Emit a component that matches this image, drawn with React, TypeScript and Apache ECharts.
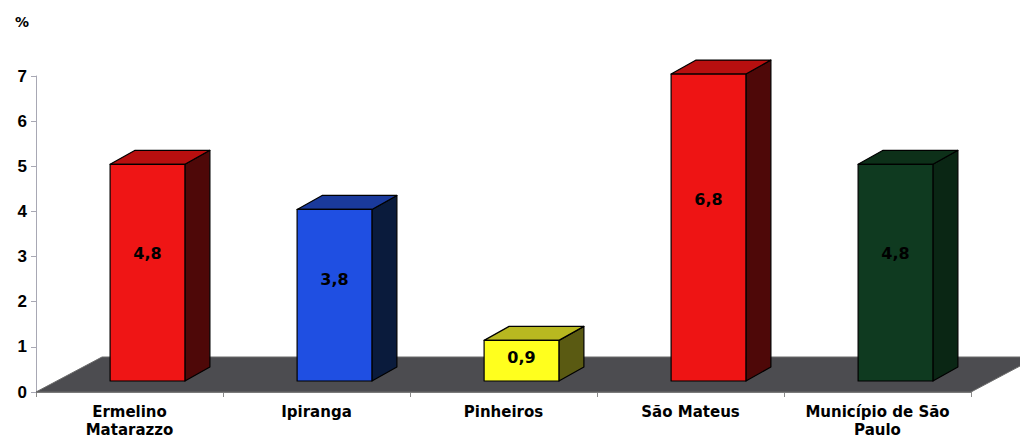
import React, { useEffect, useRef } from "react";
import * as echarts from "echarts";

const categories = ["Ermelino Matarazzo", "Ipiranga", "Pinheiros", "São Mateus", "Município de São Paulo"];
const values = [4.8, 3.8, 0.9, 6.8, 4.8];
const valueLabels = ["4,8", "3,8", "0,9", "6,8", "4,8"];
const yTicks = [0, 1, 2, 3, 4, 5, 6, 7];

const frontColors = ["#ef1515", "#1f4fe2", "#ffff1e", "#ee1414", "#0f3a20"];
const sideColors = ["#4e0808", "#0a1b3c", "#5a5a12", "#4e0808", "#0a2614"];
const topColors = ["#b80f0f", "#1a3a9c", "#b8b820", "#b80f0f", "#0d3019"];

const FONT = "'DejaVu Sans', Verdana, sans-serif";
const FONT_NUM = "Arial, 'Liberation Sans', sans-serif";

export default function App() {
  const ref = useRef<HTMLDivElement>(null);
  useEffect(() => {
    if (!ref.current) return;
    const chart = echarts.init(ref.current, undefined, { renderer: "svg" });
    const FLOOR_DX = 66, FLOOR_DY = -35;
    const OFF_X = 18, OFF_Y = -11;
    const DEP_X = 25, DEP_Y = -14;
    chart.setOption({
      animation: false,
      backgroundColor: "#ffffff",
      textStyle: { fontFamily: FONT },
      graphic: [
        {
          type: "text",
          left: 15,
          top: 15,
          style: { text: "%", fill: "#000", font: `bold 14px ${FONT}` },
        },
      ],
      grid: { left: 36, right: 49, top: 76, bottom: 46, containLabel: false },
      xAxis: {
        type: "category",
        data: categories,
        axisLine: { show: true, lineStyle: { color: "#8a8a8a", width: 1 } },
        axisTick: { show: true, alignWithLabel: false, length: 5, lineStyle: { color: "#8a8a8a" } },
        axisLabel: {
          margin: 11,
          color: "#000",
          fontWeight: "bold",
          fontSize: 15,
          fontFamily: FONT,
          lineHeight: 18,
          interval: 0,
          formatter: (v: string) =>
            v === "Ermelino Matarazzo" ? "Ermelino\nMatarazzo" : v === "Município de São Paulo" ? "Município de São\nPaulo" : v,
        },
        splitLine: { show: false },
      },
      yAxis: {
        type: "value",
        min: yTicks[0],
        max: yTicks[yTicks.length - 1],
        interval: 1,
        axisLine: { show: true, lineStyle: { color: "#a8a8b4", width: 1 } },
        axisTick: { show: true, length: 5, lineStyle: { color: "#a8a8b4" } },
        axisLabel: { margin: 9, color: "#000", fontWeight: "bold", fontSize: 17, fontFamily: FONT_NUM },
        splitLine: { show: false },
      },
      series: [
        {
          type: "custom",
          z: 1,
          silent: true,
          data: [[0, 0]],
          clip: false,
          renderItem: (params: any, api: any) => {
            const cs = params.coordSys;
            const x0 = cs.x, x1 = cs.x + cs.width, y0 = api.coord([0, 0])[1];
            return {
              type: "polygon",
              shape: {
                points: [
                  [x0, y0],
                  [x1, y0],
                  [x1 + FLOOR_DX, y0 + FLOOR_DY],
                  [x0 + FLOOR_DX, y0 + FLOOR_DY],
                ],
              },
              style: { fill: "#4c4c50", stroke: "#6a6a6a", lineWidth: 1 },
            };
          },
        },
        {
          type: "custom",
          z: 3,
          clip: false,
          data: values.map((v, i) => [i, v]),
          renderItem: (params: any, api: any) => {
            const i = api.value(0);
            const v = api.value(1);
            const top = api.coord([i, v]);
            const base = api.coord([i, 0]);
            const bw = api.size([1, 0])[0] * 0.4;
            const cx = top[0] + OFF_X;
            const xl = cx - bw / 2, xr = cx + bw / 2;
            const yt = top[1] + OFF_Y, yb = base[1] + OFF_Y;
            const h = yb - yt;
            const stroke = { stroke: "#000", lineWidth: 1.2, lineJoin: "round" };
            return {
              type: "group",
              children: [
                {
                  type: "polygon",
                  shape: { points: [[xr, yt], [xr + DEP_X, yt + DEP_Y], [xr + DEP_X, yb + DEP_Y], [xr, yb]] },
                  style: { fill: sideColors[i], ...stroke },
                },
                {
                  type: "polygon",
                  shape: { points: [[xl, yt], [xl + DEP_X, yt + DEP_Y], [xr + DEP_X, yt + DEP_Y], [xr, yt]] },
                  style: { fill: topColors[i], ...stroke },
                },
                {
                  type: "rect",
                  shape: { x: xl, y: yt, width: bw, height: h },
                  style: { fill: frontColors[i], ...stroke },
                },
                {
                  type: "text",
                  style: {
                    text: valueLabels[i],
                    x: cx,
                    y: yt + h * 0.41,
                    align: "center",
                    verticalAlign: "middle",
                    fill: "#000",
                    font: `bold 16px ${FONT}`,
                  },
                },
              ],
            };
          },
        },
      ],
    });
    return () => chart.dispose();
  }, []);
  return <div ref={ref} style={{ width: 1020, height: 439, position: "absolute", left: 0, top: 0 }} />;
}
